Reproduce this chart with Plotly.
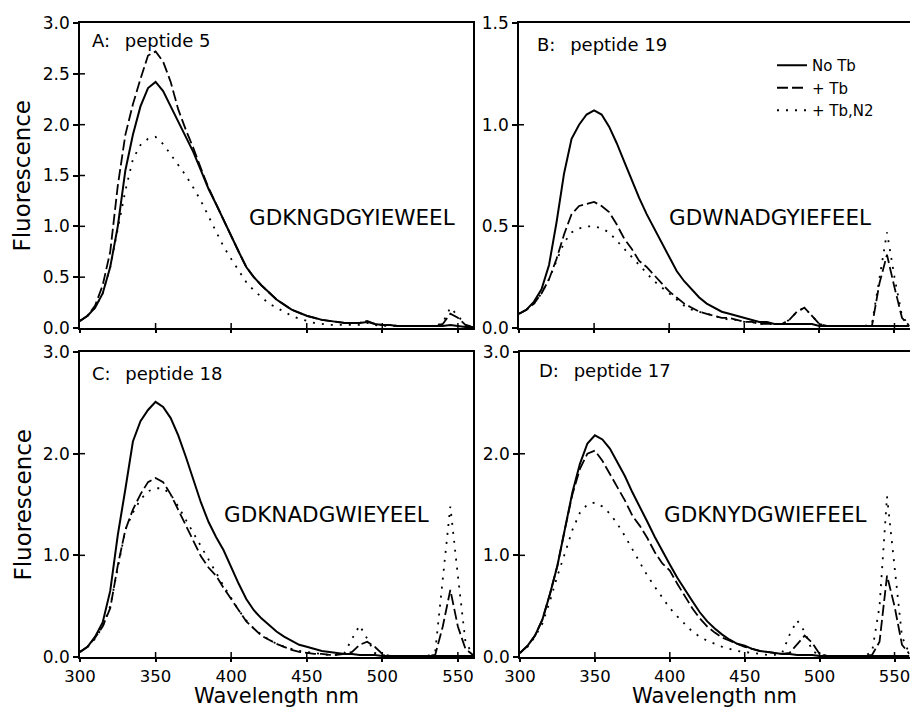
import plotly.graph_objects as go

# ---------------- data ----------------
wavelength = list(range(300, 561, 5))  # nm

a_no_tb = [0.07, 0.12, 0.20, 0.34, 0.60, 1.00, 1.55, 1.90, 2.18, 2.36,
           2.42, 2.33, 2.18, 2.03, 1.88, 1.73, 1.55, 1.37, 1.22, 1.06,
           0.90, 0.75, 0.60, 0.50, 0.42, 0.35, 0.28, 0.23, 0.18, 0.15,
           0.12, 0.10, 0.08, 0.07, 0.06, 0.05, 0.05, 0.05, 0.06, 0.04,
           0.03, 0.03, 0.02, 0.02, 0.02, 0.02, 0.02, 0.02, 0.02, 0.03,
           0.02, 0.01, 0.01]
a_tb = [0.07, 0.12, 0.22, 0.42, 0.75, 1.40, 1.90, 2.20, 2.45, 2.68,
        2.72, 2.62, 2.42, 2.15, 1.95, 1.77, 1.57, 1.38, 1.22, 1.06,
        0.90, 0.75, 0.60, 0.50, 0.42, 0.35, 0.28, 0.23, 0.18, 0.15,
        0.12, 0.10, 0.08, 0.07, 0.06, 0.05, 0.05, 0.05, 0.07, 0.04,
        0.03, 0.03, 0.02, 0.02, 0.02, 0.02, 0.02, 0.02, 0.04, 0.14,
        0.10, 0.03, 0.01]
a_tb_n2 = [0.07, 0.12, 0.20, 0.34, 0.60, 0.98, 1.35, 1.66, 1.80, 1.86,
           1.88, 1.81, 1.71, 1.60, 1.50, 1.38, 1.25, 1.10, 0.95, 0.80,
           0.68, 0.56, 0.45, 0.37, 0.30, 0.24, 0.20, 0.16, 0.12, 0.09,
           0.07, 0.05, 0.04, 0.03, 0.03, 0.03, 0.03, 0.03, 0.05, 0.03,
           0.02, 0.02, 0.02, 0.02, 0.02, 0.02, 0.02, 0.02, 0.05, 0.20,
           0.12, 0.03, 0.01]

b_no_tb = [0.07, 0.09, 0.13, 0.19, 0.31, 0.52, 0.76, 0.93, 1.00, 1.05,
           1.07, 1.05, 0.99, 0.91, 0.82, 0.73, 0.64, 0.56, 0.49, 0.42,
           0.35, 0.28, 0.23, 0.19, 0.15, 0.12, 0.10, 0.08, 0.07, 0.06,
           0.05, 0.04, 0.03, 0.03, 0.02, 0.02, 0.02, 0.02, 0.02, 0.02,
           0.01, 0.01, 0.01, 0.01, 0.01, 0.01, 0.01, 0.01, 0.01, 0.01,
           0.01, 0.01, 0.01]
b_tb = [0.07, 0.09, 0.12, 0.17, 0.24, 0.34, 0.46, 0.56, 0.60, 0.61,
        0.62, 0.60, 0.57, 0.51, 0.44, 0.39, 0.33, 0.30, 0.26, 0.22,
        0.18, 0.15, 0.12, 0.10, 0.08, 0.07, 0.06, 0.05, 0.05, 0.04,
        0.03, 0.03, 0.02, 0.02, 0.02, 0.02, 0.04, 0.08, 0.10, 0.06,
        0.02, 0.01, 0.01, 0.01, 0.01, 0.01, 0.01, 0.01, 0.22, 0.36,
        0.20, 0.05, 0.01]
b_tb_n2 = [0.07, 0.09, 0.12, 0.17, 0.24, 0.33, 0.42, 0.47, 0.49, 0.50,
           0.50, 0.49, 0.47, 0.43, 0.39, 0.35, 0.31, 0.27, 0.23, 0.20,
           0.17, 0.14, 0.11, 0.09, 0.08, 0.07, 0.06, 0.05, 0.04, 0.04,
           0.03, 0.03, 0.02, 0.02, 0.02, 0.02, 0.04, 0.08, 0.10, 0.06,
           0.02, 0.01, 0.01, 0.01, 0.01, 0.01, 0.01, 0.02, 0.25, 0.47,
           0.25, 0.06, 0.01]

c_no_tb = [0.05, 0.10, 0.20, 0.34, 0.65, 1.20, 1.65, 2.12, 2.32, 2.43,
           2.51, 2.46, 2.35, 2.18, 1.97, 1.74, 1.52, 1.33, 1.18, 1.05,
           0.88, 0.72, 0.57, 0.46, 0.38, 0.31, 0.25, 0.20, 0.16, 0.12,
           0.10, 0.08, 0.06, 0.05, 0.04, 0.03, 0.03, 0.02, 0.02, 0.02,
           0.01, 0.01, 0.01, 0.01, 0.01, 0.01, 0.01, 0.01, 0.01, 0.01,
           0.01, 0.01, 0.01]
c_tb = [0.05, 0.10, 0.19, 0.30, 0.48, 0.90, 1.25, 1.45, 1.60, 1.72,
        1.76, 1.72, 1.60, 1.45, 1.30, 1.15, 0.99, 0.88, 0.80, 0.68,
        0.57, 0.46, 0.35, 0.28, 0.21, 0.17, 0.13, 0.10, 0.07, 0.05,
        0.04, 0.03, 0.03, 0.02, 0.02, 0.03, 0.05, 0.12, 0.15, 0.10,
        0.03, 0.01, 0.01, 0.01, 0.01, 0.01, 0.01, 0.02, 0.30, 0.66,
        0.30, 0.08, 0.02]
c_tb_n2 = [0.05, 0.10, 0.18, 0.30, 0.50, 0.88, 1.25, 1.42, 1.55, 1.63,
           1.66, 1.66, 1.60, 1.48, 1.35, 1.22, 1.08, 0.95, 0.83, 0.70,
           0.58, 0.46, 0.36, 0.28, 0.22, 0.17, 0.13, 0.10, 0.08, 0.06,
           0.05, 0.04, 0.03, 0.02, 0.02, 0.04, 0.18, 0.31, 0.18, 0.04,
           0.02, 0.01, 0.01, 0.01, 0.01, 0.01, 0.01, 0.05, 0.80, 1.48,
           0.80, 0.15, 0.02]

d_no_tb = [0.04, 0.11, 0.21, 0.37, 0.62, 0.90, 1.26, 1.62, 1.90, 2.10,
           2.18, 2.14, 2.05, 1.92, 1.78, 1.62, 1.48, 1.33, 1.18, 1.04,
           0.91, 0.78, 0.66, 0.55, 0.44, 0.35, 0.28, 0.22, 0.17, 0.13,
           0.11, 0.08, 0.06, 0.05, 0.04, 0.03, 0.03, 0.02, 0.02, 0.02,
           0.01, 0.01, 0.01, 0.01, 0.01, 0.01, 0.01, 0.01, 0.01, 0.01,
           0.01, 0.01, 0.01]
d_tb = [0.04, 0.11, 0.21, 0.37, 0.62, 0.90, 1.26, 1.60, 1.85, 2.00,
        2.03, 1.93, 1.80, 1.67, 1.54, 1.39, 1.29, 1.17, 1.03, 0.92,
        0.85, 0.72, 0.60, 0.48, 0.38, 0.30, 0.24, 0.19, 0.16, 0.13,
        0.10, 0.08, 0.06, 0.05, 0.04, 0.03, 0.04, 0.12, 0.21, 0.14,
        0.03, 0.01, 0.01, 0.01, 0.01, 0.01, 0.01, 0.02, 0.15, 0.80,
        0.50, 0.12, 0.03]
d_tb_n2 = [0.04, 0.10, 0.20, 0.33, 0.55, 0.80, 1.02, 1.25, 1.42, 1.50,
           1.52, 1.48, 1.41, 1.31, 1.19, 1.06, 0.94, 0.80, 0.69, 0.58,
           0.48, 0.40, 0.32, 0.25, 0.20, 0.16, 0.13, 0.10, 0.08, 0.06,
           0.05, 0.04, 0.03, 0.02, 0.02, 0.04, 0.22, 0.36, 0.25, 0.06,
           0.02, 0.01, 0.01, 0.01, 0.01, 0.01, 0.01, 0.05, 0.50, 1.58,
           0.90, 0.20, 0.03]

series_labels = ["No Tb", "+ Tb", "+ Tb,N2"]
panel_titles = ["A:\u2002 peptide 5", "B:\u2002 peptide 19",
                "C:\u2002 peptide 18", "D:\u2002 peptide 17"]
sequences = ["GDKNGDGYIEWEEL", "GDWNADGYIEFEEL",
             "GDKNADGWIEYEEL", "GDKNYDGWIEFEEL"]
panel_series = [[a_no_tb, a_tb, a_tb_n2], [b_no_tb, b_tb, b_tb_n2],
                [c_no_tb, c_tb, c_tb_n2], [d_no_tb, d_tb, d_tb_n2]]
y_max = [3.0, 1.5, 3.0, 3.0]
y_ticks = [[0.0, 0.5, 1.0, 1.5, 2.0, 2.5, 3.0],
           [0.0, 0.5, 1.0, 1.5],
           [0.0, 1.0, 2.0, 3.0],
           [0.0, 1.0, 2.0, 3.0]]
x_range = [300, 560]
x_ticks = [300, 350, 400, 450, 500, 550]
x_title = "Wavelength nm"
y_title = "Fluorescence"

# ---------------- style ----------------
W, H = 910, 709
FONT = "DejaVu Sans"
line_styles = [dict(color="black", width=2.0, dash="solid"),
               dict(color="black", width=1.8, dash="11px,4px"),
               dict(color="black", width=1.8, dash="2px,7px")]
# panel frames in pixels: (left, right, top, bottom)
frames = [(80, 473, 23, 328), (519, 909.5, 23, 328),
          (80, 473, 352, 657), (520, 909.5, 352, 657)]
title_pos = [(0.025, 0.944), (0.041, 0.928), (0.025, 0.931), (0.044, 0.938)]
seq_pos = [(0.425, 0.361), (0.380, 0.361), (0.362, 0.466), (0.365, 0.466)]

fig = go.Figure()
shapes = []
annotations = []
layout_axes = {}

for i in range(4):
    n = i + 1
    xa = "x" if n == 1 else f"x{n}"
    ya = "y" if n == 1 else f"y{n}"
    for s, ys in enumerate(panel_series[i]):
        fig.add_trace(go.Scatter(
            x=wavelength, y=ys, mode="lines", name=series_labels[s],
            line=line_styles[s], showlegend=(i == 1), xaxis=xa, yaxis=ya))
    l, r, t, b = frames[i]
    bottom_row = i >= 2
    layout_axes["xaxis" if n == 1 else f"xaxis{n}"] = dict(
        domain=[l / W, r / W], range=x_range, anchor=ya, automargin=False,
        tickvals=x_ticks, ticks="outside", ticklen=3, tickwidth=1.5,
        tickcolor="black", showticklabels=bottom_row,
        ticklabeloverflow="allow",
        tickfont=dict(family=FONT, size=16.5, color="black"),
        showline=True, linecolor="black", linewidth=1.5, mirror=True,
        showgrid=False, zeroline=False)
    layout_axes["yaxis" if n == 1 else f"yaxis{n}"] = dict(
        domain=[1 - b / H, 1 - t / H], range=[0, y_max[i]], anchor=xa,
        automargin=False, ticklabeloverflow="allow",
        tickvals=y_ticks[i], tickformat=".1f", ticks="outside", ticklen=5,
        tickwidth=1.5, tickcolor="black",
        tickfont=dict(family=FONT, size=17, color="black"),
        showline=True, linecolor="black", linewidth=1.5, mirror=True,
        showgrid=False, zeroline=False)
    # inner halves of the crossing ticks
    for tv in x_ticks[1:]:
        shapes.append(dict(type="line", xref=xa, yref=ya, xsizemode="scaled",
                           ysizemode="pixel", yanchor=0, x0=tv, x1=tv,
                           y0=0, y1=5, line=dict(color="black", width=1.5)))
    for tv in y_ticks[i][1:-1]:
        shapes.append(dict(type="line", xref=xa, yref=ya, xsizemode="pixel",
                           xanchor=x_range[0], x0=0, x1=5, y0=tv, y1=tv,
                           line=dict(color="black", width=1.5)))
    annotations.append(dict(text=panel_titles[i], xref=f"{xa} domain",
                            yref=f"{ya} domain", x=title_pos[i][0],
                            y=title_pos[i][1], xanchor="left", yanchor="middle",
                            showarrow=False,
                            font=dict(family=FONT, size=18, color="black")))
    annotations.append(dict(text=sequences[i], xref=f"{xa} domain",
                            yref=f"{ya} domain", x=seq_pos[i][0],
                            y=seq_pos[i][1], xanchor="left", yanchor="middle",
                            showarrow=False,
                            font=dict(family=FONT, size=21.5, color="black")))

# axis titles
for (l, r, t, b) in (frames[0], frames[2]):
    annotations.append(dict(text=y_title, xref="paper", yref="paper",
                            x=22 / W, y=1 - (t + b) / 2 / H, textangle=-90,
                            xanchor="center", yanchor="middle", showarrow=False,
                            font=dict(family=FONT, size=23, color="black")))
for (l, r, t, b) in (frames[2], frames[3]):
    annotations.append(dict(text=x_title, xref="paper", yref="paper",
                            x=(l + r) / 2 / W, y=1 - 695.5 / H,
                            xanchor="center", yanchor="middle", showarrow=False,
                            font=dict(family=FONT, size=21, color="black")))

fig.update_layout(
    width=W, height=H, margin=dict(l=0, r=0, t=0, b=0, autoexpand=False),
    paper_bgcolor="white", plot_bgcolor="white",
    font=dict(family=FONT, color="black"),
    legend=dict(x=772 / W, y=1 - 49 / H, xanchor="left", yanchor="top",
                bgcolor="rgba(0,0,0,0)", tracegroupgap=0, itemwidth=30,
                font=dict(family=FONT, size=15, color="black")),
    shapes=shapes, annotations=annotations, **layout_axes)

fig.write_html("out.html")
